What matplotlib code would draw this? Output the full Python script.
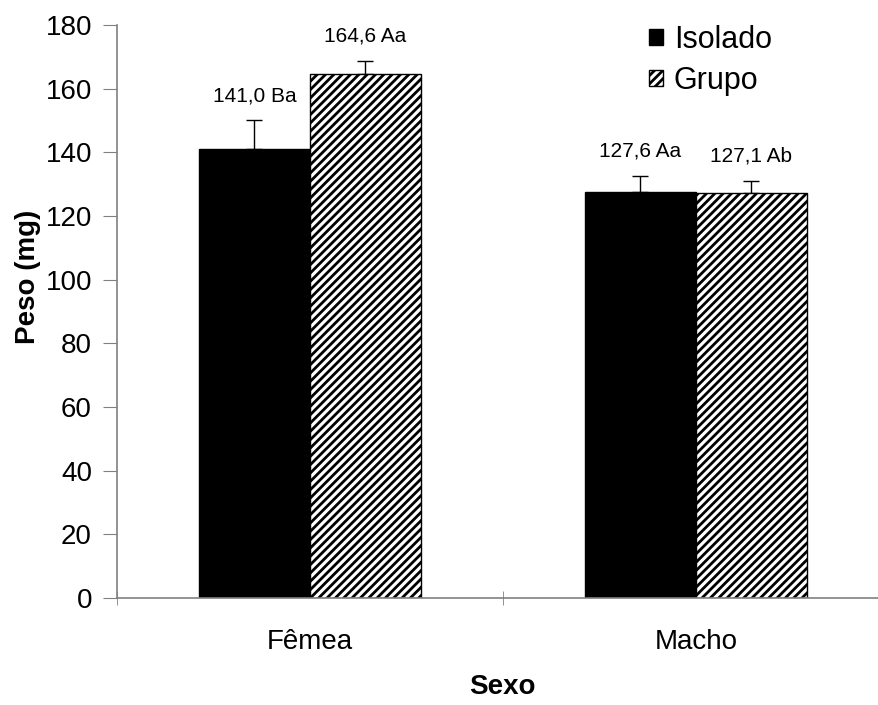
import numpy as np
import matplotlib
matplotlib.use('Agg')
import matplotlib.pyplot as plt

plt.rcParams['font.family'] = ['Liberation Sans', 'DejaVu Sans']
plt.rcParams['hatch.linewidth'] = 2.0

# Data
sexo = ['Fêmea', 'Macho']
isolado = [141.0, 127.6]
grupo = [164.6, 127.1]
err_isolado = [9.0, 5.0]
err_grupo = [4.0, 3.8]
lab_isolado = ['141,0 Ba', '127,6 Aa']
lab_grupo = ['164,6 Aa', '127,1 Ab']

fig = plt.figure(figsize=(8.79, 7.05), dpi=100)
ax = fig.add_axes([0.1331, 0.1518, 0.878, 0.8128])

x = np.arange(len(sexo)) + 0.5
w = 0.2876
gray = '#808080'

b1 = ax.bar(x - w / 2, isolado, w, color='black', edgecolor='black',
            linewidth=1, label='Isolado', zorder=2)
b2 = ax.bar(x + w / 2, grupo, w, color='white', edgecolor='black',
            hatch='////', linewidth=1, label='Grupo', zorder=2)

ax.errorbar(x - w / 2, isolado, yerr=[np.zeros(2), err_isolado], fmt='none',
            ecolor='black', elinewidth=1, capsize=5.5, capthick=1, zorder=1)
ax.errorbar(x + w / 2, grupo, yerr=[np.zeros(2), err_grupo], fmt='none',
            ecolor='black', elinewidth=1, capsize=5.5, capthick=1, zorder=1)

# value labels above the error bars
for xi, v, e, t in zip(x - w / 2, isolado, err_isolado, lab_isolado):
    ax.annotate(t, (xi, v + e), xytext=(0, 11), textcoords='offset points',
                ha='center', va='bottom', fontsize=15)
for xi, v, e, t in zip(x + w / 2, grupo, err_grupo, lab_grupo):
    ax.annotate(t, (xi, v + e), xytext=(0, 11), textcoords='offset points',
                ha='center', va='bottom', fontsize=15)

ax.set_xlim(0, 2)
ax.set_ylim(0, 180)
ax.set_yticks(np.arange(0, 181, 20))
ax.set_xticks(x)
ax.set_xticklabels(sexo)
ax.set_xticks([0, 1, 2], minor=True)
ax.tick_params(axis='x', which='major', length=0, pad=22, labelsize=20)
ax.tick_params(axis='x', which='minor', length=10, direction='inout', color=gray)
ax.tick_params(axis='y', length=10, direction='out', color=gray, labelsize=20, pad=8)

for s in ['top', 'right']:
    ax.spines[s].set_visible(False)
for s in ['left', 'bottom']:
    ax.spines[s].set_color(gray)
    ax.spines[s].set_linewidth(1.2)

ax.set_ylabel('Peso (mg)', fontsize=20, fontweight='bold')
ax.set_xlabel('Sexo', fontsize=20, fontweight='bold')
ax.yaxis.set_label_coords(-0.098, 0.56)
ax.xaxis.set_label_coords(0.499, -0.133)

fig.legend(handles=[b1, b2], loc='upper left', bbox_to_anchor=(0.725, 0.982),
           frameon=False, fontsize=22, handlelength=0.45, handleheight=0.45,
           handletextpad=0.35, labelspacing=0.35, borderaxespad=0)

fig.savefig('out.png', dpi=100)
